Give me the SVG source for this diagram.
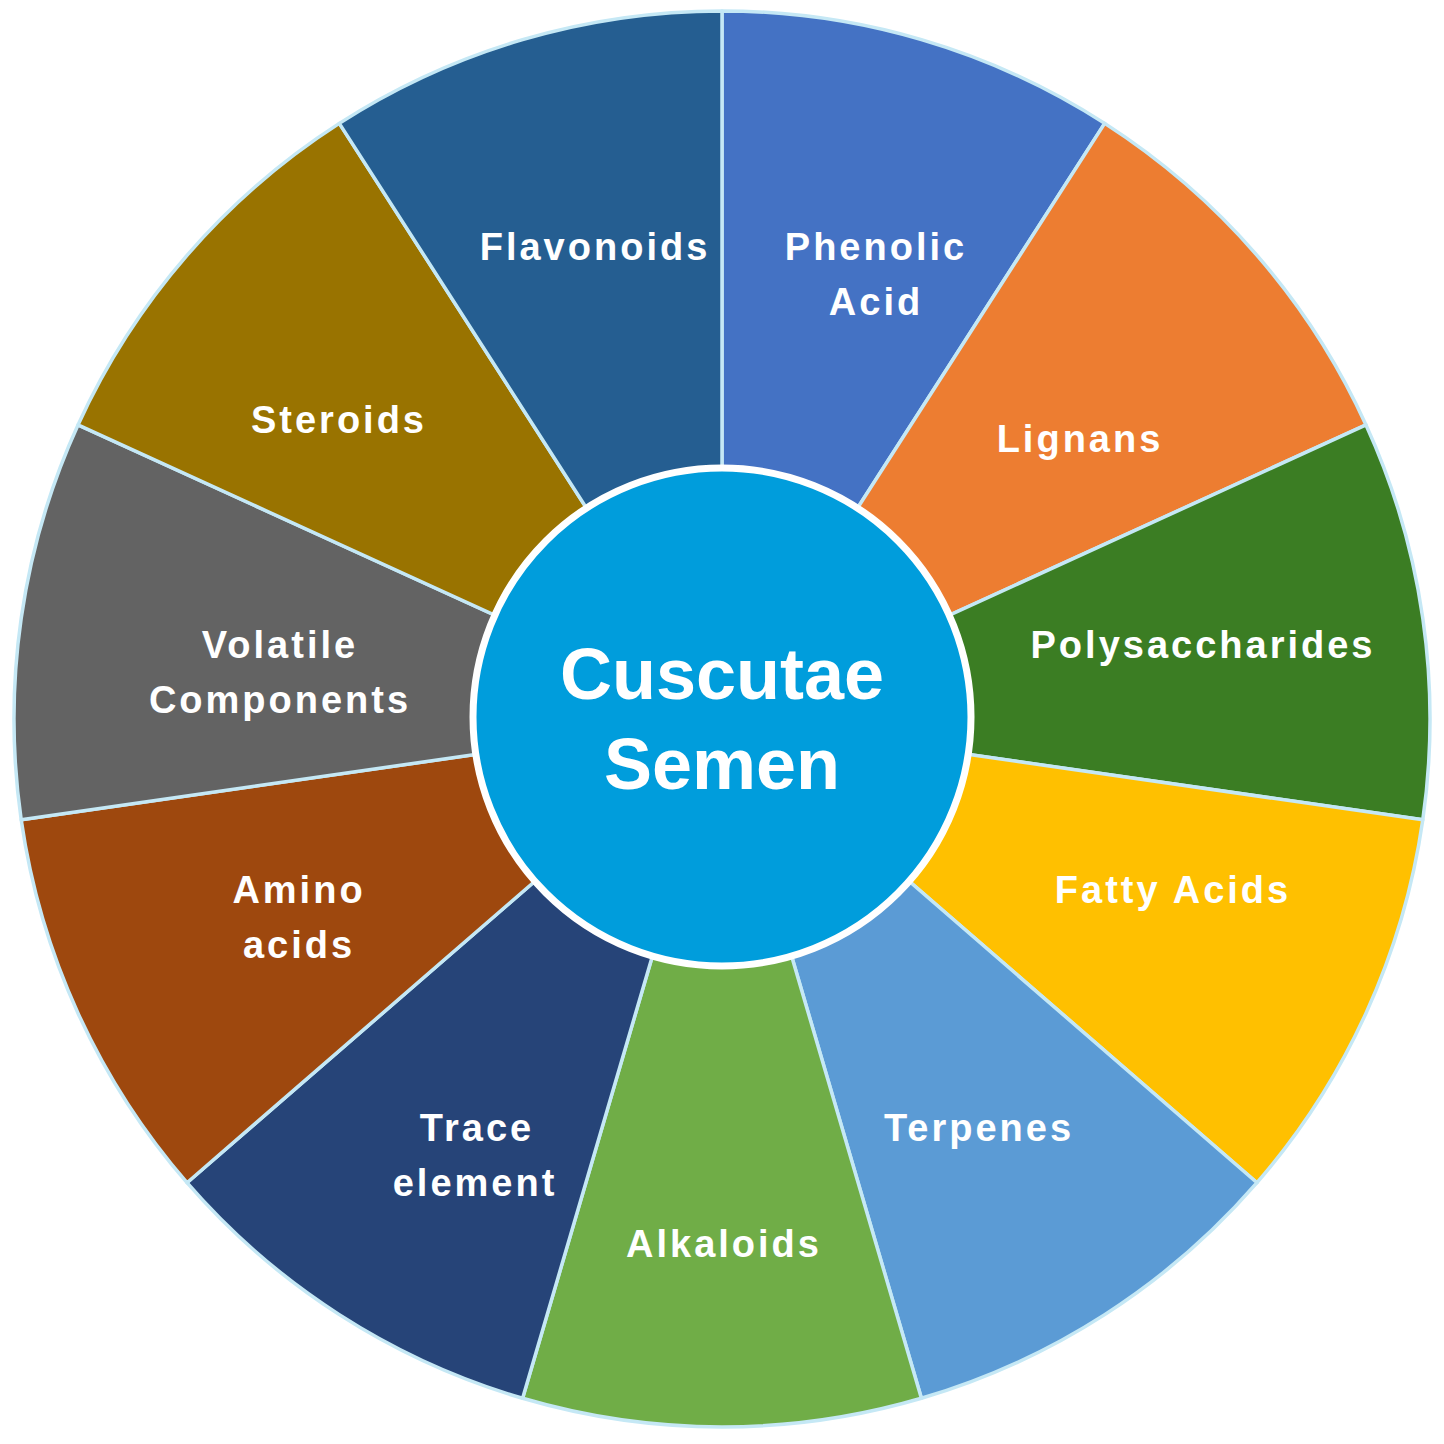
<svg xmlns="http://www.w3.org/2000/svg" width="1444" height="1444" viewBox="0 0 1444 1444">
<style>
.seg{stroke:#C5E8F5;stroke-width:3.5;stroke-linejoin:round}
.lbl{font-family:"Liberation Sans",Arial,sans-serif;font-weight:bold;font-size:38px;fill:#fff;text-anchor:middle;letter-spacing:3px}
.ctr{font-family:"Liberation Sans",Arial,sans-serif;font-weight:bold;font-size:72px;fill:#fff;text-anchor:middle}
</style>
<rect width="1444" height="1444" fill="#fff"/>
<g id="segments">
<g id="phenolic-acid"><path class="seg" fill="#4472C4" d="M722 719 L722 11 A708 708 0 0 1 1104.7 123.4 Z"/><text class="lbl" x="876" y="260">Phenolic</text><text class="lbl" x="876" y="315">Acid</text></g>
<g id="lignans"><path class="seg" fill="#ED7D31" d="M722 719 L1104.7 123.4 A708 708 0 0 1 1366 424.9 Z"/><text class="lbl" x="1080" y="452">Lignans</text></g>
<g id="polysaccharides"><path class="seg" fill="#3B7D23" d="M722 719 L1366 424.9 A708 708 0 0 1 1422.8 819.8 Z"/><text class="lbl" x="1203" y="658">Polysaccharides</text></g>
<g id="fatty-acids"><path class="seg" fill="#FFC000" d="M722 719 L1422.8 819.8 A708 708 0 0 1 1257 1182.7 Z"/><text class="lbl" x="1173" y="903">Fatty Acids</text></g>
<g id="terpenes"><path class="seg" fill="#5B9BD5" d="M722 719 L1257 1182.7 A708 708 0 0 1 921.4 1398.3 Z"/><text class="lbl" x="979" y="1141">Terpenes</text></g>
<g id="alkaloids"><path class="seg" fill="#70AD47" d="M722 719 L921.4 1398.3 A708 708 0 0 1 522.6 1398.3 Z"/><text class="lbl" x="724" y="1257">Alkaloids</text></g>
<g id="trace-element"><path class="seg" fill="#264478" d="M722 719 L522.6 1398.3 A708 708 0 0 1 187 1182.7 Z"/><text class="lbl" x="477" y="1141">Trace</text><text class="lbl" x="475" y="1196">element</text></g>
<g id="amino-acids"><path class="seg" fill="#9E480E" d="M722 719 L187 1182.7 A708 708 0 0 1 21.2 819.8 Z"/><text class="lbl" x="299" y="903">Amino</text><text class="lbl" x="299" y="958">acids</text></g>
<g id="volatile-components"><path class="seg" fill="#636363" d="M722 719 L21.2 819.8 A708 708 0 0 1 78 424.9 Z"/><text class="lbl" x="280" y="658">Volatile</text><text class="lbl" x="280" y="713">Components</text></g>
<g id="steroids"><path class="seg" fill="#997300" d="M722 719 L78 424.9 A708 708 0 0 1 339.3 123.4 Z"/><text class="lbl" x="339" y="433">Steroids</text></g>
<g id="flavonoids"><path class="seg" fill="#255E91" d="M722 719 L339.3 123.4 A708 708 0 0 1 722 11 Z"/><text class="lbl" x="595" y="260">Flavonoids</text></g>
</g>
<g id="center">
<circle cx="722" cy="717" r="249" fill="#009DDC" stroke="#fff" stroke-width="7"/>
<text class="ctr" x="722" y="699">Cuscutae</text>
<text class="ctr" x="722" y="789">Semen</text>
</g>
</svg>
